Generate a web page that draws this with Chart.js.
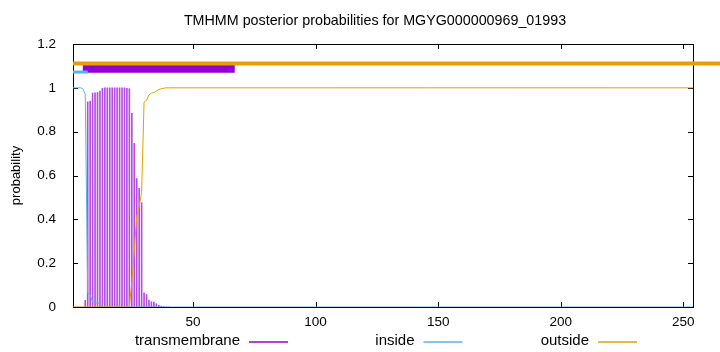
<!DOCTYPE html>
<html>
<head>
<meta charset="utf-8">
<script src="https://cdn.jsdelivr.net/npm/chart.js@4.4.0/dist/chart.umd.min.js"></script>
<style>
  html, body { margin: 0; padding: 0; background: #fff; }
</style>
</head>
<body>
<canvas id="tmhmmChart" width="720" height="352"></canvas>
<script>
// Posterior probabilities per residue (after residue 40 every curve stays flat up to 254)
const residues = [1, 2, 3, 4, 5, 6, 7, 8, 9, 10, 11, 12, 13, 14, 15, 16, 17, 18, 19, 20,
  21, 22, 23, 24, 25, 26, 27, 28, 29, 30, 31, 32, 33, 34, 35, 36, 37, 38, 39, 40, 254];
const tmProb = [0, 0, 0, 0, 0, 0.03, 0.936, 0.94, 0.976, 0.977, 0.979, 0.985, 0.998, 1, 1, 1, 1, 1, 1, 1,
  1, 1, 0.998, 0.996, 0.884, 0.747, 0.586, 0.542, 0.476, 0.065, 0.057, 0.032, 0.024, 0.022, 0.015, 0.008, 0.004, 0.002, 0, 0, 0];
const insideProb = [1, 1, 1, 1, 0.997, 0.97, 0.063, 0.056, 0.022, 0.02, 0.018, 0.012, 0.002, 0, 0, 0, 0, 0, 0, 0,
  0, 0, 0, 0, 0, 0, 0, 0, 0, 0, 0, 0, 0, 0, 0, 0, 0, 0, 0, 0, 0];
const outsideProb = [0, 0, 0, 0, 0, 0, 0, 0, 0, 0, 0, 0, 0, 0, 0, 0, 0, 0, 0, 0,
  0, 0, 0, 0, 0.116, 0.253, 0.414, 0.458, 0.524, 0.935, 0.943, 0.968, 0.976, 0.978, 0.985, 0.992, 0.996, 0.998, 1, 1, 1];

// predicted topology bars drawn above the curves: [start, end] residue and level
const topoOutside = [1, 265];
const topoTM = [5, 67];
const topoInside = [1, 7];
const levelOutside = 1.111;
const levelTM = 1.089;
const levelInside = 1.072;

const xTicks = [50, 100, 150, 200, 250];
const yTicks = [0, 0.2, 0.4, 0.6, 0.8, 1, 1.2];
const seriesNames = ['transmembrane', 'inside', 'outside'];
const chartTitle = 'TMHMM posterior probabilities for MGYG000000969_01993';

const PURPLE = '#9400d3';
const BLUE = '#56b4e9';
const ORANGE = '#e69f00';
const FONT = 'Liberation Sans, Arial, sans-serif';

function points(ys) {
  return residues.map(function(r, i) { return { x: r, y: ys[i] }; });
}
function bar(range, level) {
  return [{ x: range[0], y: level }, { x: range[1], y: level }];
}

// gnuplot-like frame with inward ticks, title over the plot and legend below
const framePlugin = {
  id: 'frame',
  beforeDatasetsDraw(chart) {
    const a = chart.chartArea;
    const ctx = chart.ctx;
    const xs = chart.scales.x, ys = chart.scales.y;
    ctx.save();
    ctx.strokeStyle = '#000';
    ctx.lineWidth = 1;
    ctx.strokeRect(Math.round(a.left) + 0.5, Math.round(a.top) + 0.5,
      Math.round(a.right - a.left), Math.round(a.bottom - a.top));
    ctx.beginPath();
    xTicks.forEach(function(v) {
      const px = Math.round(xs.getPixelForValue(v)) + 0.5;
      ctx.moveTo(px, a.bottom); ctx.lineTo(px, a.bottom - 5);
      ctx.moveTo(px, a.top); ctx.lineTo(px, a.top + 5);
    });
    yTicks.forEach(function(v) {
      const py = Math.round(ys.getPixelForValue(v)) + 0.5;
      ctx.moveTo(a.left, py); ctx.lineTo(a.left + 5, py);
      ctx.moveTo(a.right, py); ctx.lineTo(a.right - 5, py);
    });
    ctx.stroke();

    ctx.fillStyle = '#000';
    ctx.font = '14.3px ' + FONT;
    ctx.textAlign = 'center';
    ctx.textBaseline = 'middle';
    ctx.fillText(chartTitle, 375, 21);
    ctx.restore();
  },
  afterDraw(chart) {
    const ctx = chart.ctx;
    const colors = [PURPLE, BLUE, ORANGE];
    const y = 341;
    ctx.save();
    ctx.font = '15px ' + FONT;
    ctx.textAlign = 'right';
    ctx.textBaseline = 'middle';
    seriesNames.forEach(function(name, i) {
      const x0 = 249 + i * 174.5;
      ctx.fillStyle = '#000';
      ctx.fillText(name, x0 - 9, y);
      ctx.strokeStyle = colors[i];
      ctx.lineWidth = 1.5;
      ctx.beginPath();
      ctx.moveTo(x0, y + 1);
      ctx.lineTo(x0 + 39, y + 1);
      ctx.stroke();
    });
    ctx.restore();
  }
};

const ctx = document.getElementById('tmhmmChart').getContext('2d');
new Chart(ctx, {
  type: 'line',
  data: {
    datasets: [
      {
        label: 'outside topology',
        data: bar(topoOutside, levelOutside),
        borderColor: ORANGE,
        borderWidth: 4,
        pointRadius: 0,
        clip: false,
        order: 0
      },
      {
        label: 'inside topology',
        data: bar(topoInside, levelInside),
        borderColor: BLUE,
        borderWidth: 3,
        pointRadius: 0,
        order: 1
      },
      {
        label: 'transmembrane topology',
        data: bar(topoTM, levelTM),
        borderColor: PURPLE,
        borderWidth: 9,
        pointRadius: 0,
        order: 2
      },
      {
        label: 'outside',
        data: points(outsideProb),
        borderColor: ORANGE,
        borderWidth: 1,
        pointRadius: 0,
        tension: 0,
        order: 3
      },
      {
        label: 'inside',
        data: points(insideProb),
        borderColor: BLUE,
        borderWidth: 1,
        pointRadius: 0,
        tension: 0,
        order: 4
      },
      {
        type: 'bar',
        label: 'transmembrane',
        data: points(tmProb),
        backgroundColor: 'rgba(148, 0, 211, 0.7)',
        borderWidth: 0,
        barThickness: 1,
        order: 5
      }
    ]
  },
  options: {
    responsive: false,
    animation: false,
    layout: { padding: { left: 0, right: 27, top: 44, bottom: 0 } },
    plugins: {
      legend: { display: false },
      tooltip: { enabled: false },
      title: { display: false }
    },
    scales: {
      x: {
        type: 'linear',
        offset: false,
        min: 1,
        max: 254,
        afterBuildTicks: function(scale) {
          scale.ticks = xTicks.map(function(v) { return { value: v }; });
        },
        afterFit: function(scale) { scale.height = 45; },
        grid: { display: false, drawTicks: false, offset: false },
        border: { display: false },
        ticks: {
          color: '#000',
          padding: 7,
          maxRotation: 0,
          font: { family: FONT, size: 13.5 }
        }
      },
      y: {
        min: 0,
        max: 1.2,
        afterBuildTicks: function(scale) {
          scale.ticks = yTicks.map(function(v) { return { value: v }; });
        },
        afterFit: function(scale) { scale.width = 73; },
        grid: { display: false, drawTicks: false },
        border: { display: false },
        ticks: {
          color: '#000',
          padding: 17,
          font: { family: FONT, size: 13.5 },
          callback: function(v) { return String(Number(v.toFixed(1))); }
        },
        title: {
          display: true,
          text: 'probability',
          color: '#000',
          font: { family: FONT, size: 13 },
          padding: { top: 9, bottom: 0 }
        }
      }
    }
  },
  plugins: [framePlugin]
});
</script>
</body>
</html>
